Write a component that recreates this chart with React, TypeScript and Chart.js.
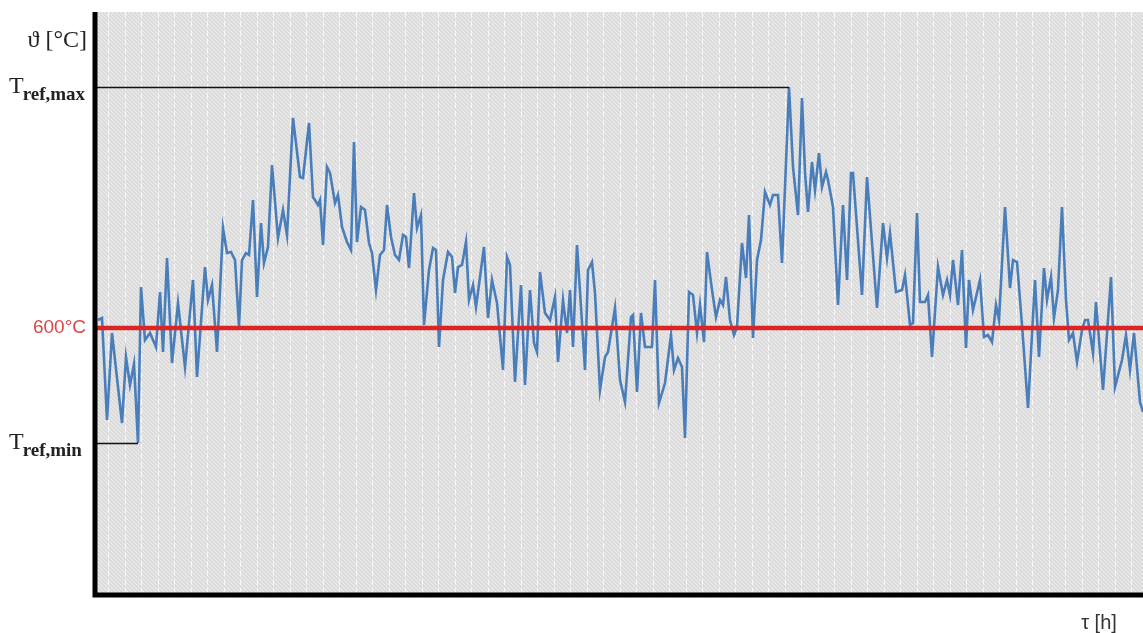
import React, { useEffect, useRef } from "react";
import { Chart, registerables } from "chart.js";

Chart.register(...registerables);

// time [h] (arbitrary units along the axis)
const hours = [
  3, 7, 12, 17, 27, 31, 35, 39, 43, 46, 50, 55, 61, 65, 68, 72, 77, 83, 90, 98,
  102, 110, 113, 117, 122, 128, 132, 136, 140, 144, 147, 151, 154, 158, 162, 166, 169, 173, 177, 183,
  188, 192, 198, 205, 208, 214, 218, 223, 225, 228, 232, 235, 240, 243, 247, 252, 256, 259, 262, 266,
  270, 274, 277, 281, 285, 289, 292, 296, 300, 304, 308, 311, 314, 319, 322, 326, 329, 334, 338, 341,
  344, 348, 353, 357, 360, 363, 367, 371, 374, 378, 381, 385, 389, 393, 397, 402, 408, 412, 415, 420,
  426, 430, 435, 439, 442, 445, 450, 455, 460, 463, 468, 472, 475, 478, 482, 486, 490, 493, 497, 500,
  505, 510, 513, 520, 525, 530, 536, 538, 542, 546, 550, 557, 560, 564, 570, 576, 579, 583, 587, 590,
  594, 598, 602, 605, 609, 612, 617, 621, 625, 628, 631, 635, 639, 642, 647, 651, 654, 658, 662, 666,
  670, 675, 678, 683, 687, 694, 698, 703, 707, 710, 713, 717, 720, 724, 727, 731, 733, 738, 743, 748,
  752, 756, 758, 767, 772, 782, 788, 792, 795, 801, 807, 810, 815, 818, 822, 825, 830, 833, 837, 843,
  848, 852, 855, 858, 863, 867, 871, 874, 878, 885, 889, 893, 897, 901, 904, 910, 915, 918, 922, 927,
  933, 940, 944, 949, 952, 956, 959, 963, 967, 971, 974, 978, 982, 987, 990, 993, 998, 1001, 1008, 1016,
  1020, 1027, 1031, 1035, 1039, 1045, 1048,
];

// temperature [°C]
const temps = [
  608, 610, 508, 595, 505, 571, 543, 564, 485, 641, 588, 595, 581, 636, 576, 670, 565, 625, 561, 648,
  551, 661, 628, 643, 576, 700, 675, 676, 668, 601, 668, 675, 673, 728, 631, 705, 665, 681, 763, 690,
  718, 693, 810, 751, 750, 805, 731, 723, 728, 683, 761, 755, 725, 733, 701, 686, 678, 786, 686, 721,
  718, 685, 675, 638, 673, 678, 723, 691, 673, 668, 693, 691, 660, 735, 700, 713, 603, 658, 680, 678,
  581, 648, 676, 671, 635, 661, 663, 686, 628, 643, 621, 651, 681, 610, 648, 625, 558, 671, 663, 546,
  643, 543, 638, 585, 576, 656, 615, 608, 631, 566, 628, 595, 638, 581, 683, 621, 558, 658, 666, 635,
  538, 571, 576, 620, 548, 526, 611, 613, 536, 615, 581, 581, 648, 525, 545, 593, 558, 570, 561, 490,
  636, 633, 595, 623, 586, 676, 638, 611, 628, 623, 651, 608, 593, 601, 685, 650, 713, 590, 668, 688,
  736, 723, 733, 733, 665, 841, 761, 713, 830, 756, 716, 766, 738, 775, 741, 756, 748, 721, 623, 723,
  648, 755, 755, 633, 751, 620, 705, 670, 695, 636, 638, 653, 603, 605, 715, 626, 626, 633, 571, 661,
  633, 648, 633, 668, 623, 678, 580, 648, 618, 648, 591, 593, 586, 623, 608, 721, 640, 668, 666, 603,
  520, 648, 571, 660, 628, 651, 610, 638, 721, 628, 588, 595, 566, 598, 608, 608, 575, 626, 538, 651,
  541, 568, 593, 558, 595, 526, 516,
];

const referenceTemp = 600;
const timeRange = [0, 1048];
const tempRange = [333, 916];
const yAxisTitle = "ϑ [°C]";
const xAxisTitle = "τ [h]";
const referenceLabel = "600°C";
const maxLabel = { main: "T", sub: "ref,max" };
const minLabel = { main: "T", sub: "ref,min" };
const gridStart = 13.3;
const gridStep = 16.5;

function makeHatch(): CanvasPattern | string {
  const pc = document.createElement("canvas");
  pc.width = 4;
  pc.height = 4;
  const p = pc.getContext("2d");
  if (!p) return "#dcdcdc";
  p.fillStyle = "#d9d9d9";
  p.fillRect(0, 0, 4, 4);
  p.strokeStyle = "#ececec";
  p.lineWidth = 1.2;
  p.beginPath();
  p.moveTo(-1, -1);
  p.lineTo(5, 5);
  p.moveTo(-1, 3);
  p.lineTo(1, 5);
  p.moveTo(3, -1);
  p.lineTo(5, 1);
  p.stroke();
  const pat = p.createPattern(pc, "repeat");
  return pat || "#dcdcdc";
}

const decorPlugin = {
  id: "decor",
  beforeDatasetsDraw(chart: any) {
    const { ctx, chartArea: a, scales } = chart;
    const x = scales.x;
    ctx.save();
    ctx.fillStyle = makeHatch();
    ctx.fillRect(a.left, a.top, a.right - a.left, a.bottom - a.top);
    ctx.strokeStyle = "rgba(255,255,255,0.75)";
    ctx.lineWidth = 1;
    ctx.setLineDash([6, 3]);
    for (let t = gridStart; t <= timeRange[1]; t += gridStep) {
      const px = Math.round(x.getPixelForValue(t)) + 0.5;
      ctx.beginPath();
      ctx.moveTo(px, a.top);
      ctx.lineTo(px, a.bottom);
      ctx.stroke();
    }
    ctx.restore();
  },
  afterDraw(chart: any) {
    const { ctx, chartArea: a, scales } = chart;
    const x = scales.x;
    const y = scales.y;
    ctx.save();

    // reference lines to extreme points
    let iMax = 0;
    let iMin = 0;
    temps.forEach((v, i) => {
      if (v > temps[iMax]) iMax = i;
      if (v < temps[iMin]) iMin = i;
    });
    ctx.strokeStyle = "#111";
    ctx.lineWidth = 1.4;
    const drawRef = (i: number) => {
      const py = Math.round(y.getPixelForValue(temps[i])) + 0.5;
      const px = x.getPixelForValue(hours[i]);
      ctx.beginPath();
      ctx.moveTo(a.left, py);
      ctx.lineTo(px, py);
      ctx.stroke();
    };
    drawRef(iMax);
    drawRef(iMin);

    // axes
    ctx.strokeStyle = "#000";
    ctx.lineWidth = 5;
    ctx.beginPath();
    ctx.moveTo(a.left, a.top);
    ctx.lineTo(a.left, a.bottom);
    ctx.lineTo(a.right, a.bottom);
    ctx.stroke();

    // labels
    ctx.textBaseline = "middle";
    ctx.textAlign = "right";
    ctx.fillStyle = "#222";
    ctx.font = "24px 'Liberation Serif', serif";
    ctx.fillText(yAxisTitle, a.left - 8, 41);

    const drawT = (lab: { main: string; sub: string }, value: number) => {
      const py = y.getPixelForValue(value);
      ctx.textAlign = "left";
      ctx.fillStyle = "#222";
      ctx.font = "24px 'Liberation Serif', serif";
      ctx.textBaseline = "middle";
      ctx.fillText(lab.main, 9, py);
      const w = ctx.measureText(lab.main).width;
      ctx.font = "bold 19px 'Liberation Serif', serif";
      ctx.textBaseline = "alphabetic";
      ctx.fillText(lab.sub, 9 + w - 1, py + 13);
    };
    drawT(maxLabel, temps[iMax]);
    drawT(minLabel, temps[iMin]);

    ctx.textAlign = "right";
    ctx.textBaseline = "middle";
    ctx.fillStyle = "#d84848";
    ctx.font = "19px 'Liberation Sans', sans-serif";
    ctx.fillText(referenceLabel, a.left - 9, y.getPixelForValue(referenceTemp));

    ctx.textAlign = "center";
    ctx.fillStyle = "#333";
    ctx.font = "20px 'Liberation Sans', sans-serif";
    ctx.fillText(xAxisTitle, 1099, 623);

    ctx.restore();
  },
};

export default function App() {
  const ref = useRef<HTMLCanvasElement>(null);

  useEffect(() => {
    const canvas = ref.current;
    if (!canvas) return;
    const series = hours.map((h, i) => ({ x: h, y: temps[i] }));
    const refLine = [
      { x: timeRange[0], y: referenceTemp },
      { x: timeRange[1], y: referenceTemp },
    ];
    const chart = new Chart(canvas, {
      type: "line",
      data: {
        datasets: [
          {
            data: refLine,
            borderColor: "#dc2424",
            borderWidth: 4.5,
            pointRadius: 0,
            order: 0,
          },
          {
            data: series,
            borderColor: "#4a7ebb",
            borderWidth: 2.6,
            pointRadius: 0,
            tension: 0,
            order: 1,
          },
        ],
      },
      options: {
        responsive: false,
        animation: false,
        devicePixelRatio: 1,
        layout: { padding: { left: 95, top: 12, right: 0, bottom: 38 } },
        plugins: { legend: { display: false }, tooltip: { enabled: false } },
        events: [],
        scales: {
          x: { type: "linear", min: timeRange[0], max: timeRange[1], display: false },
          y: { type: "linear", min: tempRange[0], max: tempRange[1], display: false },
        },
      },
      plugins: [decorPlugin],
    });
    return () => chart.destroy();
  }, []);

  return (
    <div style={{ position: "fixed", left: 0, top: 0, width: 1143, height: 633, background: "#fff" }}>
      <canvas ref={ref} width={1143} height={633} style={{ display: "block" }} />
    </div>
  );
}
